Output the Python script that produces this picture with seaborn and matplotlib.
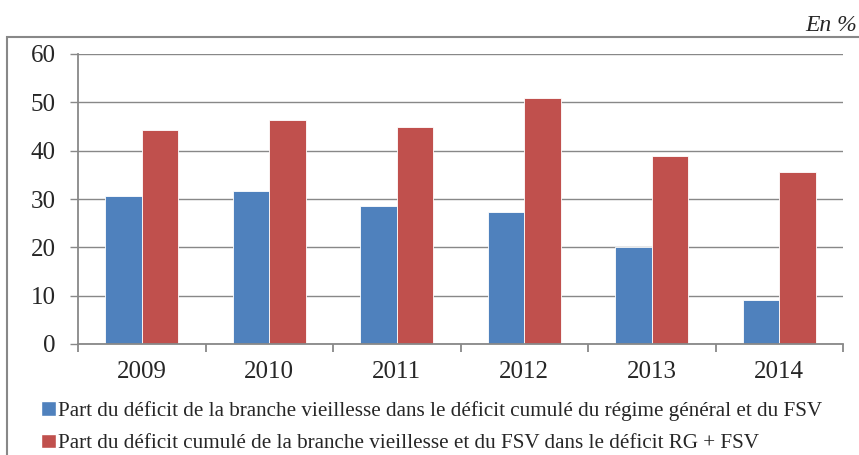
import pandas as pd
import seaborn as sns
import matplotlib.pyplot as plt
from matplotlib.patches import Rectangle

YEARS = ["2009", "2010", "2011", "2012", "2013", "2014"]
SERIES_BLUE = "Part du déficit de la branche vieillesse dans le déficit cumulé du régime général et du FSV"
SERIES_RED = "Part du déficit cumulé de la branche vieillesse et du FSV dans le déficit RG + FSV"
VALUES_BLUE = [30.6, 31.7, 28.6, 27.4, 20.1, 9.1]
VALUES_RED = [44.3, 46.3, 45.0, 50.8, 39.0, 35.5]

COLOR_BLUE = "#4F81BD"
COLOR_RED = "#C0504D"
GRID_GRAY = "#888888"


def build_dataframe() -> pd.DataFrame:
    blue = pd.DataFrame({"Année": YEARS, "Valeur": VALUES_BLUE, "Série": SERIES_BLUE})
    red = pd.DataFrame({"Année": YEARS, "Valeur": VALUES_RED, "Série": SERIES_RED})
    return pd.concat([blue, red], ignore_index=True)


sns.set_style("white")
plt.rcParams["font.family"] = ["Liberation Serif", "DejaVu Serif"]

df = build_dataframe()

fig = plt.figure(figsize=(8.59, 4.55), dpi=100)
ax = fig.add_axes([78 / 859, 1 - 344 / 455, (843 - 78) / 859, (344 - 54) / 455])

sns.barplot(
    data=df,
    x="Année",
    y="Valeur",
    hue="Série",
    palette=[COLOR_BLUE, COLOR_RED],
    saturation=1,
    width=0.575,
    edgecolor="white",
    linewidth=0.6,
    legend=False,
    ax=ax,
)

ax.set_ylim(0, 60)
ax.set_xlim(-0.5, len(YEARS) - 0.5)
ax.set_yticks(range(0, 61, 10))
ax.set_xlabel("")
ax.set_ylabel("")
ax.yaxis.grid(True, color=GRID_GRAY, linewidth=1.0)
ax.set_axisbelow(True)

for side in ["top", "right"]:
    ax.spines[side].set_visible(False)
for side in ["left", "bottom"]:
    ax.spines[side].set_color(GRID_GRAY)
    ax.spines[side].set_linewidth(1.3)

ax.set_xticks([i - 0.5 for i in range(len(YEARS) + 1)], minor=True)
ax.tick_params(axis="x", which="major", length=0, pad=12, labelsize=18)
ax.tick_params(axis="x", which="minor", length=6, width=1.3, color=GRID_GRAY, direction="out")
ax.tick_params(axis="y", which="major", length=6, width=1.0, color=GRID_GRAY, pad=10, labelsize=18)
ax.tick_params(axis="both", which="both", bottom=True, left=True)

handles = [
    Rectangle((0, 0), 1, 1, facecolor=COLOR_BLUE),
    Rectangle((0, 0), 1, 1, facecolor=COLOR_RED),
]
fig.legend(
    handles,
    [SERIES_BLUE, SERIES_RED],
    loc="upper left",
    bbox_to_anchor=(41 / 859, 1 - 401 / 455),
    frameon=False,
    fontsize=15.2,
    handlelength=0.7,
    handleheight=0.7,
    handletextpad=0.1,
    labelspacing=0.6,
    borderpad=0,
    borderaxespad=0,
)

frame = Rectangle(
    (7 / 859, -0.05), 1.2, 1 - 37 / 455 + 0.05,
    transform=fig.transFigure, fill=False, edgecolor=GRID_GRAY, linewidth=1.5,
)
fig.patches.append(frame)

fig.text(857 / 859, 1 - 31 / 455, "En %", ha="right", va="baseline",
         fontsize=17, style="italic")

fig.savefig("out.png", dpi=100)
